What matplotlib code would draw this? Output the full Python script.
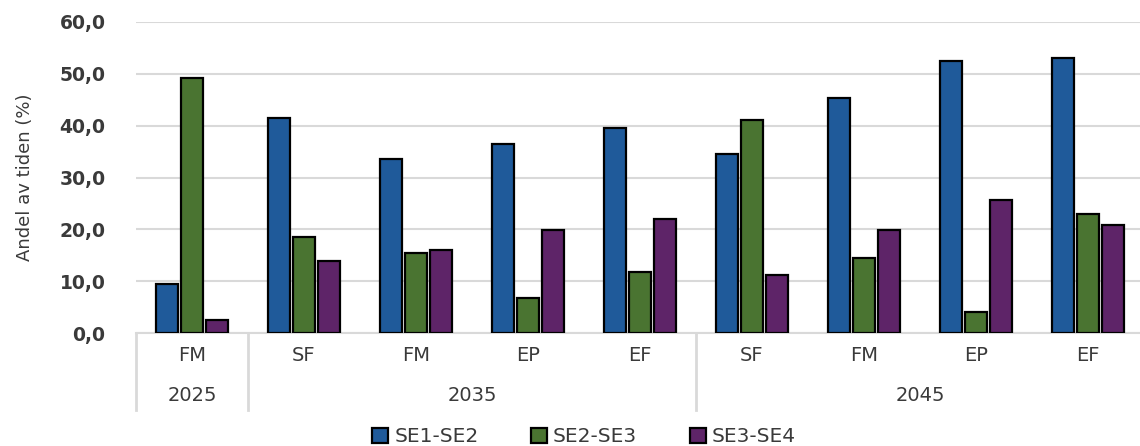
import numpy as np
import matplotlib
matplotlib.use("Agg")
import matplotlib.pyplot as plt
from matplotlib.transforms import blended_transform_factory

# scenario labels, grouped by year
years = ["2025", "2035", "2045"]
cases = [["FM"], ["SF", "FM", "EP", "EF"], ["SF", "FM", "EP", "EF"]]

series = ["SE1-SE2", "SE2-SE3", "SE3-SE4"]
colors = ["#1f5a9a", "#4a7431", "#5e2468"]

se1_se2 = [9.4, 41.4, 33.6, 36.4, 39.5, 34.5, 45.3, 52.5, 53.0]
se2_se3 = [49.1, 18.5, 15.5, 6.8, 11.7, 41.0, 14.5, 4.0, 23.0]
se3_se4 = [2.6, 13.9, 16.1, 19.9, 22.0, 11.2, 19.9, 25.6, 20.9]

values = [se1_se2, se2_se3, se3_se4]
labels = [c for grp in cases for c in grp]
x = np.arange(len(labels))

text_col = "#3a3a3a"
grid_col = "#d9d9d9"

fig = plt.figure(figsize=(11.4, 4.46), dpi=100)
ax = fig.add_axes([136 / 1140, 1 - 333 / 446, 1008 / 1140, 311 / 446])

w = 0.19
step = 0.222
for i, (vals, name, col) in enumerate(zip(values, series, colors)):
    ax.bar(x + (i - 1) * step, vals, width=w, color=col, edgecolor="black",
           linewidth=1.6, label=name, zorder=3)

ax.set_xlim(-0.5, len(labels) - 0.5)
ax.set_ylim(0, 60)
ax.set_yticks(np.arange(0, 61, 10))
ax.set_yticklabels([f"{v:.1f}".replace(".", ",") for v in np.arange(0, 61, 10)],
                   fontsize=13.5, fontweight="bold", color=text_col)
ax.tick_params(axis="y", length=0, pad=22)
ax.set_xticks([])
ax.grid(axis="y", color=grid_col, linewidth=1.5, zorder=0)
for s in ["top", "right", "left"]:
    ax.spines[s].set_visible(False)
ax.spines["bottom"].set_color(grid_col)
ax.spines["bottom"].set_linewidth(1.5)

ax.set_ylabel("Andel av tiden (%)", fontsize=13, color=text_col, labelpad=18)

# two-level category axis: case labels, year labels and separators
tr = blended_transform_factory(ax.transData, ax.transAxes)
for xi, lab in zip(x, labels):
    ax.text(xi, -0.072, lab, transform=tr, ha="center", va="center",
            fontsize=14, color=text_col)

start = -0.5
bounds = [start]
for yr, grp in zip(years, cases):
    end = start + len(grp)
    ax.text((start + end) / 2, -0.2, yr, transform=tr, ha="center",
            va="center", fontsize=14, color=text_col)
    bounds.append(end)
    start = end
for b in bounds:
    ax.plot([b, b], [0, -0.248], transform=tr, color=grid_col,
            linewidth=2, clip_on=False)

leg = fig.legend(loc="center", bbox_to_anchor=(584 / 1140, 1 - 437 / 446),
                 ncol=3, frameon=False, fontsize=14.5, handlelength=0.8,
                 handleheight=0.8, handletextpad=0.3, columnspacing=2.6)
for t in leg.get_texts():
    t.set_color(text_col)

fig.savefig("out.png", dpi=100)
